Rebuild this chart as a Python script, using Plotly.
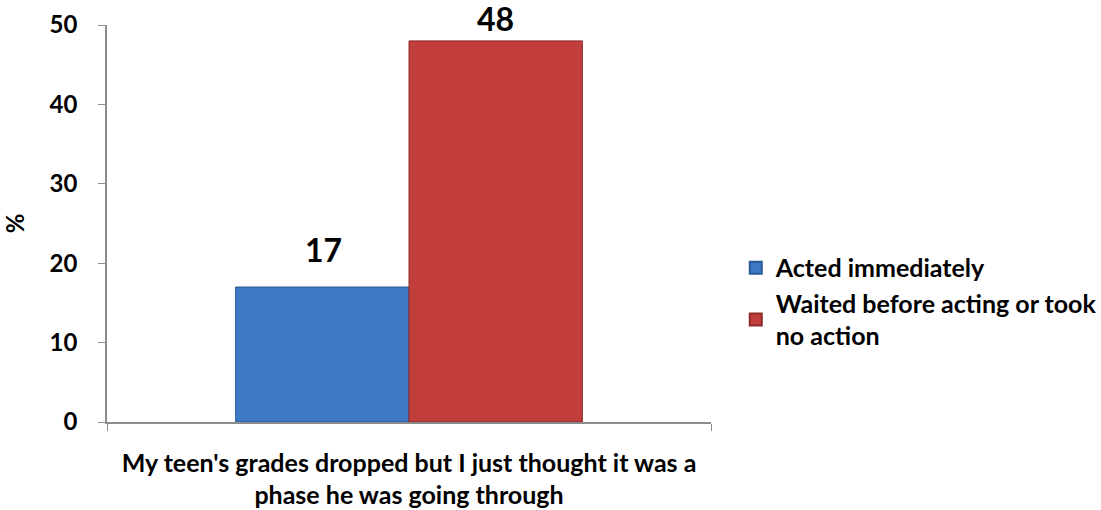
import plotly.graph_objects as go

categories = ["My teen's grades dropped but I just thought it was a<br>phase he was going through"]
acted_immediately = [17]
waited_or_no_action = [48]
series_names = ["Acted immediately", "Waited before acting or took<br>no action"]
y_ticks = [0, 10, 20, 30, 40, 50]

FONT = "Lato, 'Open Sans', sans-serif"
BOLD = dict(family=FONT, color="black", weight="bold")

fig = go.Figure()
fig.add_trace(go.Bar(
    x=categories, y=acted_immediately, name=series_names[0], legendgroup="a",
    marker=dict(color="#3E79C4", line=dict(color="#2A5A99", width=1)),
    cliponaxis=False,
))
fig.add_trace(go.Bar(
    x=categories, y=waited_or_no_action, name=series_names[1], legendgroup="b",
    marker=dict(color="#C23E3C", line=dict(color="#8E2A29", width=1)),
    cliponaxis=False,
))

# value labels above each bar (bar half-width offset in pixels, extra lift for the short bar)
for vals, xshift, lift in ((acted_immediately, -86, 16), (waited_or_no_action, 86, 1)):
    for cat, v in zip(categories, vals):
        fig.add_annotation(
            x=cat, y=v, xref="x", yref="y", text=str(v), showarrow=False,
            xshift=xshift, yshift=lift, yanchor="bottom",
            font=dict(size=32, **BOLD),
        )

fig.update_layout(
    width=1101, height=510,
    margin=dict(l=107, r=390, t=25, b=88, autoexpand=False),
    paper_bgcolor="white", plot_bgcolor="white",
    barmode="group", bargap=0.426, bargroupgap=0,
    font=dict(size=24, **BOLD),
    showlegend=True,
    legend=dict(
        x=1.041, xanchor="left", y=0.446, yanchor="top",
        font=dict(size=25, **BOLD),
        tracegroupgap=0, itemsizing="constant",
        bgcolor="rgba(0,0,0,0)",
    ),
)
fig.update_xaxes(
    showline=True, linecolor="#8C8C8C", linewidth=1.5,
    ticks="outside", ticklen=7, tickcolor="#8C8C8C", tickson="boundaries",
    tickfont=dict(size=25, **BOLD), ticklabelstandoff=18,
    showgrid=False, automargin=False,
)
fig.update_yaxes(
    range=[0, 50], tickvals=y_ticks,
    showline=True, linecolor="#8C8C8C", linewidth=1.5,
    ticks="outside", ticklen=7, tickcolor="#8C8C8C",
    tickfont=dict(size=24, **BOLD), ticklabelstandoff=16,
    showgrid=False, zeroline=False, automargin=False,
    title=dict(text="%", font=dict(size=24, **BOLD), standoff=18),
)

fig.write_html("out.html")
